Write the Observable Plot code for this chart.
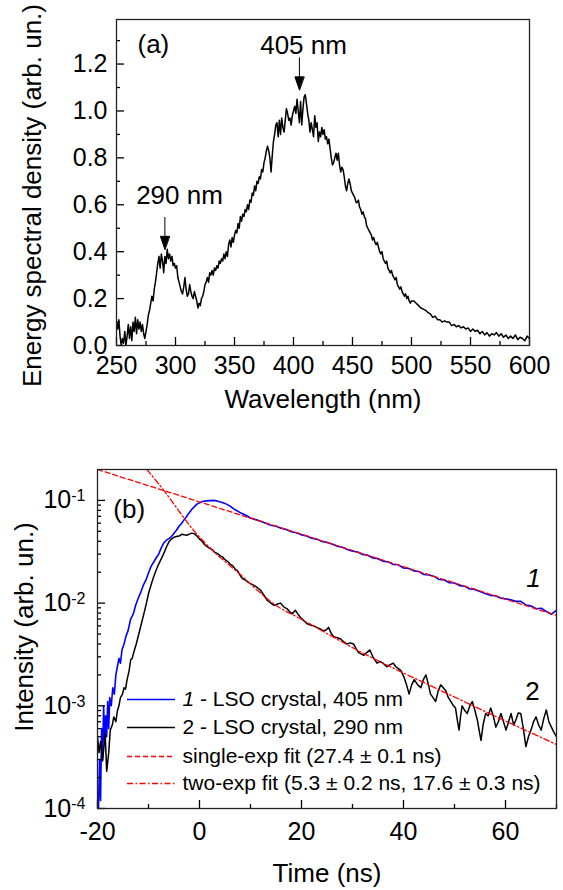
<!DOCTYPE html>
<html><head><meta charset="utf-8">
<script src="https://cdn.jsdelivr.net/npm/d3@7"></script>
<script src="https://cdn.jsdelivr.net/npm/@observablehq/plot@0.6"></script>
<style>
body{margin:0;background:#fff;}
#chart{width:563px;height:890px;background:#fff;}
#chart svg{display:block;}
</style></head><body><div id="chart"></div>
<script>
// ---------- Panel (a): emission spectrum ----------
const wavelengthNm = [250,251,252,253,254,255,256,257,258,259,260,261,262,263,264,265,266,267,268,269,270,271,272,273,274,275,276,277,278,279,280,281,282,283,284,285,286,287,288,289,290,291,292,293,294,295,296,297,298,299,300,301,302,303,304,305,306,307,308,309,310,311,312,313,314,315,316,317,318,319,320,321,322,323,324,325,326,327,328,329,330,331,332,333,334,335,336,337,338,339,340,341,342,343,344,345,346,347,348,349,350,351,352,353,354,355,356,357,358,359,360,361,362,363,364,365,366,367,368,369,370,371,372,373,374,375,376,377,378,379,380,381,382,383,384,385,386,387,388,389,390,391,392,393,394,395,396,397,398,399,400,401,402,403,404,405,406,407,408,409,410,411,412,413,414,415,416,417,418,419,420,421,422,423,424,425,426,427,428,429,430,431,432,433,434,435,436,437,438,439,440,441,442,443,444,445,446,447,448,449,450,451,452,453,454,455,456,457,458,459,460,461,462,463,464,465,466,467,468,469,470,471,472,473,474,475,476,477,478,479,480,481,482,483,484,485,486,487,488,489,490,491,492,493,494,495,496,497,498,499,500,502,504,506,508,510,512,514,516,518,520,522,524,526,528,530,532,534,536,538,540,542,544,546,548,550,552,554,556,558,560,562,564,566,568,570,572,574,576,578,580,582,584,586,588,590,592,594,596,598,600];
const spectralDensity = [0.10,0.07,0.11,0.04,0.00,0.03,0.01,0.06,0.00,0.04,0.09,0.03,0.08,0.02,0.10,0.06,0.12,0.05,0.11,0.07,0.10,0.06,0.09,0.05,0.03,0.06,0.09,0.13,0.15,0.18,0.21,0.19,0.24,0.27,0.31,0.35,0.38,0.33,0.39,0.36,0.31,0.38,0.35,0.41,0.37,0.39,0.36,0.38,0.34,0.35,0.33,0.34,0.29,0.27,0.25,0.23,0.22,0.25,0.29,0.24,0.21,0.22,0.26,0.23,0.21,0.20,0.23,0.21,0.19,0.16,0.18,0.17,0.20,0.21,0.23,0.26,0.27,0.29,0.27,0.31,0.30,0.32,0.30,0.33,0.32,0.34,0.33,0.36,0.35,0.37,0.36,0.39,0.37,0.40,0.38,0.43,0.45,0.42,0.46,0.44,0.47,0.49,0.48,0.52,0.50,0.55,0.53,0.56,0.55,0.58,0.57,0.60,0.58,0.62,0.61,0.65,0.64,0.68,0.66,0.70,0.69,0.72,0.71,0.75,0.74,0.78,0.80,0.83,0.85,0.83,0.80,0.74,0.81,0.87,0.90,0.94,0.95,0.89,0.96,0.90,0.97,0.93,0.91,0.96,1.01,0.99,0.96,0.97,0.94,0.98,1.00,1.02,0.99,1.05,1.00,0.95,1.04,0.94,1.01,1.06,1.07,1.03,0.99,0.96,0.91,0.95,0.92,0.89,0.98,0.93,0.95,0.87,0.91,0.89,0.93,0.90,0.92,0.88,0.89,0.86,0.88,0.84,0.80,0.77,0.78,0.80,0.82,0.79,0.82,0.77,0.74,0.76,0.75,0.72,0.68,0.66,0.69,0.71,0.69,0.66,0.65,0.64,0.63,0.61,0.61,0.62,0.59,0.58,0.56,0.57,0.55,0.54,0.51,0.50,0.49,0.48,0.47,0.45,0.46,0.44,0.43,0.44,0.42,0.40,0.39,0.40,0.37,0.36,0.35,0.36,0.33,0.32,0.31,0.32,0.30,0.29,0.28,0.29,0.26,0.25,0.24,0.25,0.23,0.22,0.21,0.22,0.20,0.21,0.19,0.18,0.19,0.19,0.18,0.17,0.16,0.155,0.15,0.14,0.135,0.12,0.125,0.11,0.11,0.10,0.105,0.10,0.10,0.085,0.09,0.08,0.085,0.075,0.08,0.07,0.075,0.06,0.07,0.06,0.065,0.05,0.06,0.045,0.055,0.04,0.05,0.045,0.055,0.04,0.05,0.035,0.045,0.03,0.04,0.03,0.045,0.025,0.035,0.03,0.02,0.04,0.03];
const spectrumPeaks = [
  {label: "290 nm", nm: 291, tip: 0.41, textNm: 303.4, textY: 0.603},
  {label: "405 nm", nm: 405, tip: 1.09, textNm: 408.5, textY: 1.244}
];
const panelALabel = [{label: "(a)", nm: 267.8, y: 1.248}];
const xTicksA = [250,300,350,400,450,500,550,600];
const xMinorA = [275,325,375,425,475,525,575];
const yTicksA = [0,0.2,0.4,0.6,0.8,1.0,1.2];
const yMinorA = [0.1,0.3,0.5,0.7,0.9,1.1,1.3];

// ---------- Panel (b): decay kinetics ----------
const curve1 = [[-19.8,1.0e-4],[-19.6,3.0e-4],[-19.4,1.2e-4],[-19.2,6e-4],[-19.0,3e-4],[-18.8,1.0e-3],[-18.6,4.5e-4],[-18.4,8e-4],[-18.2,5e-4],[-18.0,1.1e-3],[-17.8,6e-4],[-17.6,1.2e-3],[-17.3,1.0e-3],[-17.0,1.5e-3],[-16.7,1.3e-3],[-16.4,2.0e-3],[-16.1,2.4e-3],[-15.8,2.9e-3],[-15.5,2.6e-3],[-15.2,3.5e-3],[-14.8,4.0e-3],[-14.4,4.8e-3],[-14.0,5.4e-3],[-13.5,7.0e-3],[-13.0,7.8e-3],[-12.5,9.6e-3],[-12.0,0.0112],[-11.5,0.0128],[-11.0,0.0150],[-10.5,0.0168],[-10.0,0.0196],[-9.5,0.0228],[-9.0,0.0250],[-8.5,0.0275],[-8.0,0.0300],[-7.5,0.0345],[-7.0,0.0385],[-6.5,0.0410],[-6.0,0.0425],[-5.5,0.0445],[-5.0,0.0480],[-4.5,0.0515],[-4.0,0.0560],[-3.5,0.0600],[-3.0,0.0650],[-2.5,0.0700],[-2.0,0.0760],[-1.5,0.0820],[-1.0,0.0870],[-0.5,0.0920],[0,0.0950],[0.5,0.0970],[1,0.0985],[2,0.0995],[3,0.1000],[4,0.0970],[5,0.0935],[6,0.0880],[7,0.0810],[8,0.0760],[9,0.0720],[10,0.0675],[11,0.0650],[12,0.0628],[13,0.0600],[14,0.0572],[15,0.0560],[16,0.0535],[17,0.0522],[18,0.0496],[19,0.0485],[20,0.0462],[21,0.0450],[22,0.0428],[23,0.0420],[24,0.0398],[25,0.0390],[26,0.0376],[27,0.0358],[28,0.0350],[29,0.0332],[30,0.0320],[31,0.0315],[32,0.0298],[33,0.0292],[34,0.0275],[35,0.0270],[36,0.0256],[37,0.0252],[38,0.0238],[39,0.0236],[40,0.0220],[41,0.0218],[42,0.0206],[43,0.0203],[44,0.0190],[45,0.0188],[46,0.0182],[47,0.0170],[48,0.0168],[49,0.0158],[50,0.0157],[51,0.0148],[52,0.0146],[53,0.0137],[54,0.0136],[55,0.0130],[56,0.0124],[57,0.0119],[58,0.0118],[59,0.0112],[60,0.0110],[61,0.0108],[62,0.0104],[63,0.0104],[64,0.0096],[65,0.0094],[66,0.0088],[67,0.0089],[68,0.0083],[69,0.0078],[70,0.0085]];
const curve2 = [[-20.0,5e-4],[-19.7,3.5e-4],[-19.4,4.5e-4],[-19.0,2.9e-4],[-18.7,4.2e-4],[-18.5,5.4e-4],[-18.2,2.3e-4],[-17.8,3.5e-4],[-17.5,5.8e-4],[-17.1,6.5e-4],[-16.8,7.8e-4],[-16.4,7.0e-4],[-16.1,8.9e-4],[-15.8,1.0e-3],[-15.5,1.2e-3],[-15.1,1.3e-3],[-14.8,1.5e-3],[-14.5,1.45e-3],[-14.2,1.8e-3],[-13.8,2.2e-3],[-13.5,2.8e-3],[-13.2,2.9e-3],[-12.9,3.3e-3],[-12.4,4.0e-3],[-11.9,5.0e-3],[-11.4,6.3e-3],[-10.9,7.9e-3],[-10.4,0.0100],[-10.0,0.0124],[-9.5,0.0150],[-9.0,0.0180],[-8.5,0.0210],[-8.0,0.0240],[-7.5,0.0270],[-7.0,0.0305],[-6.5,0.0350],[-6.0,0.0395],[-5.5,0.0420],[-5.0,0.0438],[-4.5,0.0445],[-4.0,0.0450],[-3.5,0.0468],[-3.0,0.0462],[-2.5,0.0458],[-2.0,0.0470],[-1.5,0.0480],[-1.0,0.0472],[-0.5,0.0450],[0,0.0420],[0.5,0.0400],[1.0,0.0370],[1.5,0.0355],[2.0,0.0342],[2.5,0.0332],[3.0,0.0312],[3.5,0.0305],[4.0,0.0290],[4.5,0.0282],[5.0,0.0265],[5.5,0.0255],[6.0,0.0240],[6.5,0.0232],[7.0,0.0215],[7.5,0.0205],[8.0,0.0185],[8.5,0.0172],[9.0,0.0168],[9.5,0.0160],[10.0,0.0155],[10.7,0.0149],[11.3,0.0142],[12.0,0.0133],[12.7,0.0118],[13.3,0.0106],[14.0,0.0100],[14.6,0.0095],[15.3,0.0098],[15.9,0.0100],[16.5,0.0092],[17.2,0.0088],[17.7,0.0082],[18.2,0.0079],[18.8,0.0085],[19.3,0.0078],[19.8,0.0073],[20.5,0.0067],[21.1,0.0063],[21.8,0.0061],[22.4,0.0060],[23.0,0.0058],[23.7,0.0056],[24.2,0.0054],[24.7,0.0054],[25.3,0.0058],[25.8,0.0051],[26.3,0.0047],[27.0,0.0046],[27.6,0.0045],[28.3,0.0042],[28.9,0.0040],[29.6,0.0041],[30.2,0.0040],[30.7,0.0036],[31.2,0.0033],[31.7,0.0032],[32.2,0.0031],[32.8,0.0033],[33.4,0.0035],[34.0,0.0030],[34.8,0.0026],[35.4,0.0027],[36.0,0.0026],[36.7,0.0024],[37.3,0.0025],[38.0,0.0026],[38.5,0.0024],[39.0,0.0023],[39.5,0.0022],[40.1,0.0019],[40.6,0.0016],[41.1,0.0013],[41.6,0.0016],[42.1,0.0018],[42.8,0.0016],[43.4,0.0015],[43.9,0.0018],[44.4,0.0020],[44.9,0.0016],[45.3,0.0013],[45.8,0.0012],[46.3,0.0011],[46.8,0.0014],[47.3,0.0016],[47.8,0.0015],[48.3,0.0014],[48.8,0.0012],[49.3,0.0011],[49.8,0.0010],[50.2,0.00095],[50.6,0.0007],[50.9,0.00058],[51.2,0.0008],[51.5,0.0010],[52.0,0.0009],[52.5,0.00084],[53.0,0.0010],[53.5,0.0011],[54.0,0.0009],[54.5,0.00072],[54.9,0.00055],[55.2,0.00046],[55.6,0.00065],[56.1,0.00084],[56.6,0.0008],[57.1,0.00095],[57.6,0.0008],[58.1,0.00062],[58.6,0.0007],[59.1,0.00084],[59.6,0.0007],[60.1,0.00058],[60.6,0.0007],[61.1,0.00084],[61.6,0.00065],[62.0,0.00072],[62.5,0.00085],[63.0,0.00084],[63.5,0.0006],[64.0,0.0004],[64.5,0.0005],[65.0,0.00058],[65.5,0.0007],[66.0,0.00078],[66.5,0.00065],[67.0,0.00058],[67.5,0.00075],[68.0,0.00091],[68.5,0.0007],[69.0,0.00062],[69.5,0.00055],[70.0,0.0005]];
const singleExpFit = [[-20,0.2],[70,0.0076]];
const twoExpFit = [[-10.3,0.2],[-7,0.125],[-5,0.092],[-3,0.067],[-1,0.05],[1,0.039],[3,0.031],[5,0.0255],[8,0.019],[11,0.0138],[14.6,0.0098],[19.8,0.00705],[32.9,0.0031],[45.9,0.00152],[59,0.00075],[70,0.00042]];
const xTicksB = [-20,0,20,40,60];
const xMinorB = [-10,10,30,50,70];
const yTicksB = [1e-4,1e-3,1e-2,1e-1];
const yMinorB = [2e-4,3e-4,4e-4,5e-4,6e-4,7e-4,8e-4,9e-4,2e-3,3e-3,4e-3,5e-3,6e-3,7e-3,8e-3,9e-3,2e-2,3e-2,4e-2,5e-2,6e-2,7e-2,8e-2,9e-2];
const panelBLabel = [{label: "(b)", t: -16.9, v: 0.0668}];
const curveLabels = [{label: "1", t: 65.5, v: 0.0142, italic: true}, {label: "2", t: 65.3, v: 0.00115, italic: false}];
const legendItems = [
  {label: "1 - LSO crystal, 405 nm", color: "#0000ff", dash: null},
  {label: "2 - LSO crystal, 290 nm", color: "#000000", dash: null},
  {label: "single-exp fit (27.4 \u00b1 0.1 ns)", color: "#ff0000", dash: "5,3"},
  {label: "two-exp fit (5.3 \u00b1 0.2 ns, 17.6 \u00b1 0.3 ns)", color: "#ff0000", dash: "6,2.5,1.5,2.5"}
];

// ---------- drawing ----------
const W = 563;
const FONT = "'Liberation Sans', Arial, Helvetica, sans-serif";
const root = document.getElementById("chart");

const spectrum = wavelengthNm.map((nm, i) => ({nm, v: spectralDensity[i]}));

const arrowShape = {
  draw(ctx, l) {
    const h = 13, w = 4.5;
    ctx.moveTo(0, -l); ctx.lineTo(0, -h);
    ctx.moveTo(0, 0); ctx.lineTo(-w, -h); ctx.lineTo(w, -h); ctx.closePath();
  }
};

const topPlot = Plot.plot({
  width: W, height: 410,
  marginLeft: 116, marginRight: 34, marginTop: 19, marginBottom: 65,
  style: {fontFamily: FONT, fontSize: "25px", color: "black", background: "white", overflow: "visible"},
  x: {domain: [250, 600]},
  y: {domain: [0, 1.39]},
  marks: [
    Plot.line(spectrum, {x: "nm", y: "v", stroke: "black", strokeWidth: 1.5, clip: true}),
    Plot.axisX(xTicksA, {anchor: "bottom", tickSize: -8, tickPadding: 19, strokeWidth: 1.3, tickFormat: d => String(d), label: null}),
    Plot.axisX(xMinorA, {anchor: "bottom", tickSize: -4, strokeWidth: 1.3, tickFormat: () => "", label: null}),
    Plot.axisY(yTicksA, {anchor: "left", tickSize: -8, tickPadding: 17, strokeWidth: 1.3, tickFormat: d3.format(".1f"), label: null}),
    Plot.axisY(yMinorA, {anchor: "left", tickSize: -4, strokeWidth: 1.3, tickFormat: () => "", label: null}),
    Plot.frame({stroke: "#222", strokeWidth: 1.3}),
    Plot.vector(spectrumPeaks, {x: "nm", y: "tip", length: 32, anchor: "start", shape: arrowShape, fill: "black", stroke: "black", strokeWidth: 1}),
    Plot.text(spectrumPeaks, {x: "textNm", y: "textY", text: "label", lineAnchor: "bottom", fontSize: 26}),
    Plot.text(panelALabel, {x: "nm", y: "y", text: "label", textAnchor: "start", lineAnchor: "bottom", fontSize: 26}),
    Plot.text(["Wavelength (nm)"], {text: d => d, frameAnchor: "bottom", dy: 62, textAnchor: "middle", lineAnchor: "bottom", fontSize: 26}),
    Plot.text(["Energy spectral density (arb. un.)"], {text: d => d, frameAnchor: "left", dx: -76, dy: 13, rotate: -90, textAnchor: "middle", lineAnchor: "bottom", fontSize: 26})
  ]
});
root.appendChild(topPlot);

// bottom panel geometry (used to place the in-plot legend)
const HB = 480, mLB = 97, mRB = 7, mTB = 59, mBB = 82;
const xB = d3.scaleLinear().domain([-20, 70]).range([mLB, W - mRB]);
const yB = d3.scaleLog().domain([1e-4, 0.2]).range([HB - mBB, mTB]);
const legendRowsPx = [289, 317, 346, 373];
const legendMarks = legendItems.flatMap((item, i) => {
  const y = yB.invert(legendRowsPx[i]);
  const opts = {stroke: item.color, strokeWidth: 1.5};
  if (item.dash) { opts.strokeDasharray = item.dash; opts.strokeWidth = 1.3; }
  return [
    Plot.ruleY([y], {x1: xB.invert(127), x2: xB.invert(175), ...opts}),
    Plot.text([item], {x: xB.invert(182), y: () => y, text: "label", textAnchor: "start", lineAnchor: "middle", fontSize: 21})
  ];
});

const bottomPlot = Plot.plot({
  width: W, height: HB,
  marginLeft: mLB, marginRight: mRB, marginTop: mTB, marginBottom: mBB,
  style: {fontFamily: FONT, fontSize: "25px", color: "black", background: "white", overflow: "visible"},
  x: {domain: [-20, 70]},
  y: {type: "log", domain: [1e-4, 0.2]},
  marks: [
    Plot.line(curve1, {x: d => d[0], y: d => d[1], stroke: "#0000ff", strokeWidth: 1.6, clip: true}),
    Plot.line(curve2, {x: d => d[0], y: d => d[1], stroke: "black", strokeWidth: 1.5, clip: true}),
    Plot.line(singleExpFit, {x: d => d[0], y: d => d[1], stroke: "#ff0000", strokeWidth: 1.3, strokeDasharray: "5,3", clip: true}),
    Plot.line(twoExpFit, {x: d => d[0], y: d => d[1], stroke: "#ff0000", strokeWidth: 1.3, strokeDasharray: "6,2.5,1.5,2.5", curve: "monotone-x", clip: true}),
    Plot.axisX(xTicksB, {anchor: "bottom", tickSize: -8, tickPadding: 22, strokeWidth: 1.3, tickFormat: d => String(d), label: null}),
    Plot.axisX(xMinorB, {anchor: "bottom", tickSize: -4, strokeWidth: 1.3, tickFormat: () => "", label: null}),
    Plot.axisY(yTicksB, {anchor: "left", tickSize: -8, tickPadding: 20, strokeWidth: 1.3, tickFormat: d => "10|" + Math.round(Math.log10(d)), label: null}),
    Plot.axisY(yMinorB, {anchor: "left", tickSize: -4, strokeWidth: 1.3, tickFormat: () => "", label: null}),
    Plot.frame({stroke: "#222", strokeWidth: 1.3}),
    Plot.text(panelBLabel, {x: "t", y: "v", text: "label", textAnchor: "start", lineAnchor: "bottom", fontSize: 26}),
    Plot.text(curveLabels.filter(d => d.italic), {x: "t", y: "v", text: "label", lineAnchor: "bottom", fontSize: 26, fontStyle: "italic"}),
    Plot.text(curveLabels.filter(d => !d.italic), {x: "t", y: "v", text: "label", lineAnchor: "bottom", fontSize: 26}),
    ...legendMarks,
    Plot.text(["Time (ns)"], {text: d => d, frameAnchor: "bottom", dy: 73, textAnchor: "middle", lineAnchor: "bottom", fontSize: 26}),
    Plot.text(["Intensity (arb. un.)"], {text: d => d, frameAnchor: "left", dx: -65, dy: -12, rotate: -90, textAnchor: "middle", lineAnchor: "bottom", fontSize: 26})
  ]
});
root.appendChild(bottomPlot);

// superscript exponents on the log axis, italic curve number in the legend
bottomPlot.querySelectorAll("text").forEach(t => {
  const s = t.textContent;
  if (/^10\|-?\d+$/.test(s)) {
    const exp = s.split("|")[1];
    t.textContent = "10";
    const ts = document.createElementNS("http://www.w3.org/2000/svg", "tspan");
    ts.setAttribute("dy", "-0.45em");
    ts.setAttribute("font-size", "16");
    ts.textContent = exp;
    t.appendChild(ts);
  } else if (s === legendItems[0].label) {
    t.textContent = "";
    const it = document.createElementNS("http://www.w3.org/2000/svg", "tspan");
    it.setAttribute("font-style", "italic");
    it.textContent = "1";
    t.appendChild(it);
    t.appendChild(document.createTextNode(" - LSO crystal, 405 nm"));
  }
});
</script>
</body></html>
